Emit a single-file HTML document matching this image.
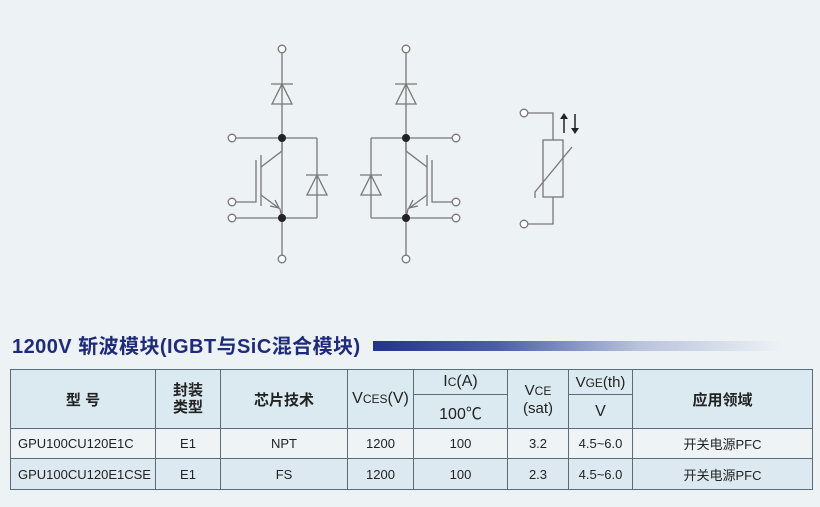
<!DOCTYPE html>
<html><head><meta charset="utf-8"><style>
body{margin:0;width:820px;height:507px;background:#edf2f5;position:relative;overflow:hidden;font-family:"Liberation Sans","Noto Sans CJK SC",sans-serif}
.t{position:absolute;left:12px;top:330px;font-size:20px;font-weight:bold;color:#1f2b7a;letter-spacing:0.45px;white-space:nowrap}
.bar{position:absolute;left:373px;top:341px;width:410px;height:10px;background:linear-gradient(90deg,#22348c,#4a5ea8 30%,#b9c3dc 65%,#edf2f5)}
table{position:absolute;left:10px;top:369px;border-collapse:collapse;color:#222}
td{border:1.5px solid #5b6b7a;text-align:center;padding:0;font-size:13px}
.h td{background:#dbe9f1;font-weight:bold;font-size:15px}
.r1 td{background:#eef3f6;height:29px}
.r2 td{background:#dde9f0;height:30px}
</style></head><body>
<svg width="820" height="300" style="position:absolute;left:0;top:0" fill="none" stroke="#777" stroke-width="1.3">
<g id="L">
<line x1="282" y1="53" x2="282" y2="255"/>
<circle cx="282" cy="49" r="3.8" fill="#fff"/><circle cx="282" cy="259" r="3.8" fill="#fff"/>
<line x1="271" y1="84" x2="293" y2="84"/><polygon points="282,84 272,104 292,104"/>
<line x1="236" y1="138" x2="317" y2="138"/><line x1="317" y1="138" x2="317" y2="218"/>
<line x1="236" y1="218" x2="317" y2="218"/>
<line x1="306" y1="175" x2="328" y2="175"/><polygon points="317,175 307,195 327,195"/>
<circle cx="232" cy="138" r="3.8" fill="#fff"/><circle cx="232" cy="218" r="3.8" fill="#fff"/><circle cx="232" cy="202" r="3.8" fill="#fff"/>
<polyline points="236,202 256,202 256,160"/>
<line x1="261" y1="155" x2="261" y2="206"/>
<polyline points="261,167 282,151 282,138"/>
<polyline points="261,195 280,209 282,218"/>
<polyline points="270,206 279,208 275,200"/>
<circle cx="282" cy="138" r="4" fill="#222" stroke="none"/><circle cx="282" cy="218" r="4" fill="#222" stroke="none"/>
</g>
<use href="#L" transform="translate(688,0) scale(-1,1)"/>
<polyline points="528,113 553,113 553,140"/>
<polyline points="528,224 553,224 553,197"/>
<circle cx="524" cy="113" r="3.8" fill="#fff"/><circle cx="524" cy="224" r="3.8" fill="#fff"/>
<rect x="543" y="140" width="20" height="57"/>
<polyline points="535,198 535,192 572,147"/>
<g stroke="#222" stroke-width="1.5"><line x1="564" y1="118" x2="564" y2="133"/><line x1="575" y1="114" x2="575" y2="129"/></g>
<polygon points="560,119 568,119 564,113" fill="#222" stroke="none"/><polygon points="571,128 579,128 575,134" fill="#222" stroke="none"/>
</svg>
<div class="t">1200V 斩波模块(IGBT与SiC混合模块)</div>
<div class="bar"></div>
<table>
<tr class="h"><td rowspan="2" style="width:144px;height:58px">型 号</td><td rowspan="2" style="width:64px;line-height:17px">封装<br>类型</td><td rowspan="2" style="width:126px">芯片技术</td><td rowspan="2" style="width:65px;font-weight:normal;font-size:16px">V<span style="font-size:12px">CES</span>(V)</td><td style="width:93px;height:24px;font-weight:normal;font-size:16px">I<span style="font-size:12px">C</span>(A)</td><td rowspan="2" style="width:60px;font-weight:normal;font-size:15px;line-height:17px">V<span style="font-size:12px">CE</span><br>(sat)</td><td style="width:63px;font-weight:normal;font-size:15px">V<span style="font-size:12px">GE</span>(th)</td><td rowspan="2" style="width:179px">应用领域</td></tr>
<tr class="h"><td style="height:33px;font-weight:normal;font-size:16px">100℃</td><td style="font-weight:normal;font-size:16px">V</td></tr>
<tr class="r1"><td style="text-align:left;padding-left:7px">GPU100CU120E1C</td><td>E1</td><td>NPT</td><td>1200</td><td>100</td><td>3.2</td><td>4.5~6.0</td><td>开关电源PFC</td></tr>
<tr class="r2"><td style="text-align:left;padding-left:7px">GPU100CU120E1CSE</td><td>E1</td><td>FS</td><td>1200</td><td>100</td><td>2.3</td><td>4.5~6.0</td><td>开关电源PFC</td></tr>
</table>
</body></html>
